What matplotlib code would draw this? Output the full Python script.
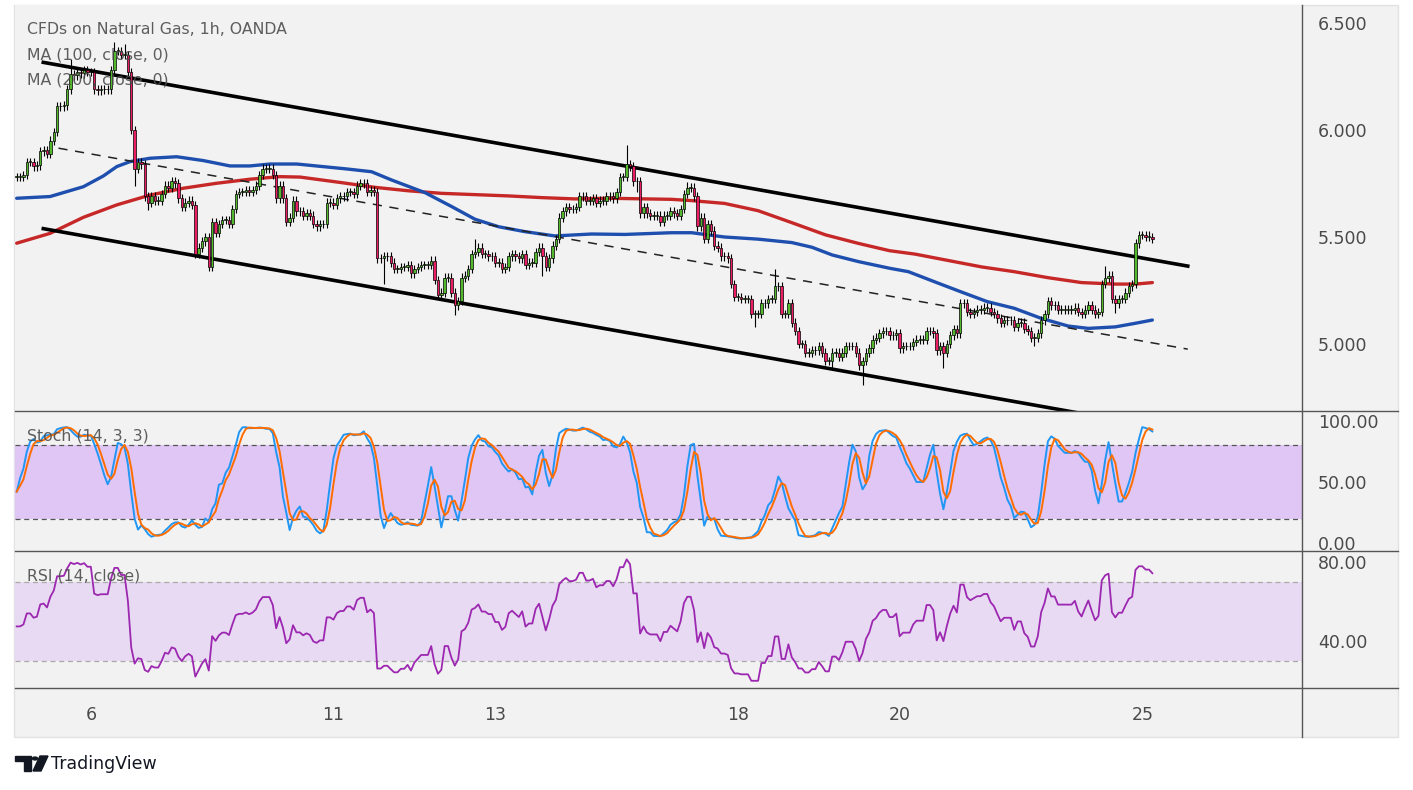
import numpy as np
import pandas as pd
import matplotlib
matplotlib.use('Agg')
import matplotlib.pyplot as plt
from matplotlib.lines import Line2D
from matplotlib.patches import Rectangle, Polygon, Circle

# ---- data (hourly closes, Jan 5 02:00 .. Jan 25 03:00) ----
# a few hours before the visible window, only used to warm up the oscillators
pre_close = [5.95, 5.89, 5.94, 5.87, 5.92, 5.85, 5.90, 5.83, 5.88, 5.80,
             5.85, 5.78, 5.83, 5.86, 5.80, 5.75, 5.81, 5.73, 5.78, 5.71,
             5.76, 5.72, 5.79, 5.74, 5.80, 5.75, 5.78]

close_a = [5.78, 5.78, 5.79, 5.85, 5.85, 5.83, 5.835, 5.90, 5.905, 5.89,
           5.95, 5.99, 6.11, 6.11, 6.115, 6.19, 6.26, 6.255, 6.27, 6.265,
           6.28, 6.27, 6.27, 6.19, 6.185, 6.19, 6.19, 6.19, 6.28, 6.37,
           6.37, 6.35, 6.35, 6.27, 6.00, 5.82, 5.85, 5.84, 5.69, 5.66,
           5.69, 5.67, 5.67, 5.70, 5.74, 5.73, 5.76, 5.75, 5.68, 5.64,
           5.66, 5.67, 5.65, 5.42, 5.45, 5.48, 5.50, 5.36, 5.57, 5.52,
           5.56, 5.58, 5.58, 5.56, 5.63, 5.70, 5.71, 5.71, 5.72, 5.71,
           5.72, 5.74, 5.79, 5.82, 5.82, 5.82, 5.79, 5.68, 5.74, 5.68,
           5.57, 5.59, 5.67, 5.62, 5.62, 5.60, 5.61]
close_b = [5.60, 5.56, 5.55, 5.56, 5.56, 5.66, 5.66, 5.65, 5.68, 5.69,
           5.69, 5.71, 5.71, 5.70, 5.74, 5.75, 5.75, 5.71, 5.72, 5.71,
           5.40, 5.40, 5.41, 5.41, 5.38, 5.35, 5.35, 5.36, 5.36, 5.37,
           5.33, 5.35, 5.36, 5.37, 5.37, 5.37, 5.39, 5.30, 5.23, 5.24,
           5.31, 5.31, 5.24, 5.18, 5.20, 5.31, 5.32, 5.35, 5.42, 5.43,
           5.45, 5.42, 5.42, 5.41, 5.41, 5.38, 5.38, 5.35, 5.36, 5.41,
           5.42, 5.41, 5.40, 5.42, 5.37, 5.38, 5.38, 5.43, 5.45, 5.41,
           5.36, 5.40, 5.46, 5.49, 5.59, 5.62, 5.64, 5.63, 5.63, 5.64,
           5.69, 5.69, 5.67, 5.67, 5.68, 5.66, 5.67]
close_c = [5.67, 5.69, 5.69, 5.68, 5.71, 5.78, 5.78, 5.84, 5.83, 5.76,
           5.76, 5.61, 5.64, 5.61, 5.60, 5.60, 5.60, 5.57, 5.60, 5.60,
           5.62, 5.61, 5.60, 5.63, 5.70, 5.73, 5.73, 5.69, 5.55, 5.59,
           5.49, 5.56, 5.53, 5.46, 5.45, 5.41, 5.41, 5.40, 5.28, 5.22,
           5.22, 5.21, 5.21, 5.21, 5.14, 5.14, 5.14, 5.19, 5.19, 5.21,
           5.21, 5.27, 5.27, 5.14, 5.14, 5.19, 5.10, 5.06, 5.00, 5.00,
           4.96, 4.96, 4.97, 4.97, 4.99, 4.96, 4.92, 4.92, 4.96, 4.96,
           4.94, 4.96, 4.99, 4.99, 4.99, 4.96, 4.90, 4.92, 4.96, 4.98,
           5.02, 5.03, 5.05, 5.06, 5.06, 5.04]
close_d = [5.04, 5.05, 4.98, 4.99, 4.99, 4.99, 5.01, 5.02, 5.02, 5.02,
           5.06, 5.06, 5.05, 4.97, 4.99, 4.96, 5.00, 5.04, 5.07, 5.05,
           5.19, 5.19, 5.15, 5.14, 5.15, 5.16, 5.16, 5.17, 5.17, 5.15,
           5.14, 5.12, 5.10, 5.11, 5.11, 5.11, 5.08, 5.10, 5.10, 5.07,
           5.06, 5.03, 5.03, 5.05, 5.11, 5.14, 5.20, 5.18, 5.18, 5.16,
           5.16, 5.16, 5.16, 5.16, 5.17, 5.15, 5.14, 5.16, 5.18, 5.16,
           5.14, 5.15, 5.28, 5.31, 5.32, 5.21, 5.19, 5.21, 5.21, 5.24,
           5.27, 5.28, 5.47, 5.51, 5.51, 5.50, 5.50, 5.49]
close = close_a + close_b + close_c + close_d

# notable wicks (bar -> price)
high_marks = {16: 6.33, 29: 6.41, 32: 6.40, 73: 5.83, 136: 5.49, 181: 5.93,
              199: 5.755, 225: 5.35, 280: 5.21, 323: 5.365, 334: 5.53, 336: 5.53}
low_marks = {35: 5.74, 39: 5.625, 57: 5.35, 58: 5.35, 80: 5.55, 109: 5.28,
             130: 5.135, 156: 5.32, 184: 5.71, 202: 5.53, 219: 5.08, 242: 4.88,
             251: 4.81, 275: 4.89, 302: 4.99, 326: 5.145}

# moving averages (bar, value)
ma100_bar = [0, 9.9, 19.8, 25.7, 29.7, 33.6, 39.6, 47.5, 55.4, 63.3, 69.2,
             75.2, 83.1, 97.9, 105.3, 111.3, 121.2, 129.1, 136, 143, 150.8,
             159.7, 170.6, 180.5, 194.3, 200.3, 210, 220, 230, 236, 242, 249.8,
             259, 264.6, 272.5, 280, 288, 296, 304, 312, 318, 326, 332, 337]
ma100 = [5.681, 5.689, 5.735, 5.785, 5.829, 5.852, 5.868, 5.875, 5.857, 5.832,
         5.832, 5.841, 5.841, 5.818, 5.805, 5.766, 5.707, 5.642, 5.583, 5.548,
         5.525, 5.505, 5.514, 5.512, 5.52, 5.52, 5.50, 5.49, 5.474, 5.452,
         5.416, 5.385, 5.354, 5.338, 5.29, 5.245, 5.198, 5.167, 5.12, 5.084,
         5.073, 5.08, 5.097, 5.112]
ma200_bar = [0, 9.9, 19.8, 29.7, 39.6, 49.5, 59.3, 69.2, 78.1, 84.1, 96.4,
             106.3, 116.2, 126.1, 136, 145.9, 155.8, 165.7, 175.6, 194.3,
             200.3, 210, 220, 230, 240, 249.8, 259, 266.6, 276.5, 286.4, 296,
             306, 316, 326, 332, 337]
ma200 = [5.471, 5.517, 5.592, 5.650, 5.696, 5.728, 5.751, 5.770, 5.782, 5.78,
         5.754, 5.732, 5.716, 5.704, 5.698, 5.692, 5.684, 5.678, 5.681, 5.676,
         5.67, 5.657, 5.623, 5.567, 5.51, 5.47, 5.436, 5.42, 5.39, 5.36,
         5.338, 5.31, 5.287, 5.28, 5.28, 5.287]

# drawn channel (bar, price)
chan_upper = [(7.9, 6.316), (347.5, 5.364)]
chan_lower = [(7.9, 5.539), (347.5, 4.587)]
chan_mid = [(12.4, 5.915), (347.5, 4.976)]

tick_days = [6, 11, 13, 18, 20, 25]
price_ticks = [5.0, 5.5, 6.0, 6.5]
stoch_ticks = [0, 50, 100]
rsi_ticks = [40, 80]

# ---- derived series ----
WICK = 0.02
n0 = len(pre_close)
c_all = np.array(pre_close + close)
o_all = np.r_[c_all[0], c_all[:-1]]
hi_all = np.maximum(o_all, c_all) + WICK
lo_all = np.minimum(o_all, c_all) - WICK
for b, v in high_marks.items():
    hi_all[n0 + b] = max(hi_all[n0 + b], v)
for b, v in low_marks.items():
    lo_all[n0 + b] = min(lo_all[n0 + b], v)

s = pd.Series(c_all)
hh = pd.Series(hi_all).rolling(14, min_periods=1).max()
ll = pd.Series(lo_all).rolling(14, min_periods=1).min()
k = (100 * (s - ll) / (hh - ll)).rolling(3, min_periods=1).mean()
d = k.rolling(3, min_periods=1).mean()
delta = s.diff().fillna(0)
up = delta.clip(lower=0).ewm(alpha=1 / 14, adjust=False).mean()
dn = (-delta.clip(upper=0)).ewm(alpha=1 / 14, adjust=False).mean()
rsi = 100 - 100 / (1 + up / dn)

o = o_all[n0:]
c = c_all[n0:]
hi = hi_all[n0:]
lo = lo_all[n0:]
k = k.values[n0:]
d = d.values[n0:]
rsi = rsi.values[n0:]
x = np.arange(len(c))

days = pd.bdate_range('2023-01-05', '2023-01-25')
stamps = [dd + pd.Timedelta(hours=h) for dd in days for h in range(24)][2:2 + len(c)]
tick_pos = [i for i, t in enumerate(stamps) if t.hour == 0 and t.day in tick_days]
tick_lab = [str(stamps[i].day) for i in tick_pos]

# ---- figure ----
W, H = 1413, 790
BG = '#f2f2f2'
TXT = '#4a4a4a'
GREEN = '#53b82e'
RED = '#e91e63'


def fx(px):
    return px / W


def fy(py):
    return 1 - py / H


fig = plt.figure(figsize=(W / 100, H / 100), dpi=100)
fig.patch.set_facecolor('white')
fig.add_artist(Rectangle((fx(14), fy(737)), fx(1398) - fx(14), fy(5) - fy(737),
                         transform=fig.transFigure, facecolor=BG,
                         edgecolor='#e2e2e6', lw=1, zorder=0))


def add_ax(top, bottom, ylim):
    ax = fig.add_axes([fx(15), fy(bottom), fx(1302) - fx(15), fy(top) - fy(bottom)])
    ax.set_facecolor(BG)
    for sp in ax.spines.values():
        sp.set_visible(False)
    ax.yaxis.tick_right()
    ax.tick_params(axis='y', length=0, pad=11.5, labelsize=12.5, labelcolor=TXT)
    ax.tick_params(axis='x', length=0, labelbottom=False)
    ax.set_xlim(-0.5, 381.4)
    ax.set_ylim(*ylim)
    return ax


ax1 = add_ax(5, 411, (4.687, 6.584))
ax2 = add_ax(411, 551, (-6.56, 108.2))
ax3 = add_ax(551, 688, (16.2, 85.57))

# main panel
ax1.plot(ma200_bar, ma200, color='#c62828', lw=2.4, zorder=2,
         solid_capstyle='round', solid_joinstyle='round')
ax1.plot(ma100_bar, ma100, color='#1e4fae', lw=2.4, zorder=2,
         solid_capstyle='round', solid_joinstyle='round')
for (xa, ya), (xb, yb) in (chan_upper, chan_lower):
    ax1.plot([xa, xb], [ya, yb], color='black', lw=2.6, zorder=2.5)
(xa, ya), (xb, yb) = chan_mid
ax1.plot([xa, xb], [ya, yb], color='#222222', lw=1.1, dashes=(6, 5), zorder=2.5)

body_lo = np.minimum(o, c)
body_h = np.maximum(np.abs(c - o), 0.003)
cols = np.where(c >= o, GREEN, RED)
ax1.vlines(x, lo, hi, color='black', lw=0.8, zorder=3)
ax1.bar(x, body_h, bottom=body_lo, width=0.72, color=cols, edgecolor='black',
        linewidth=0.5, zorder=4)
ax1.set_yticks(price_ticks)
ax1.set_yticklabels([f'{v:.3f}' for v in price_ticks])

# stochastic panel
ax2.axhspan(20, 80, color='#e0c6f4', zorder=0, lw=0)
for lvl in (20, 80):
    ax2.axhline(lvl, color='#555555', lw=0.9, dashes=(4, 3), zorder=1)
ax2.plot(x, k, color='#2196f3', lw=1.4, zorder=3)
ax2.plot(x, d, color='#ff6d00', lw=1.4, zorder=3)
ax2.set_yticks(stoch_ticks)
ax2.set_yticklabels([f'{v:.2f}' for v in stoch_ticks])

# RSI panel
ax3.axhspan(30, 70, color='#e8daf3', zorder=0, lw=0)
for lvl in (30, 70):
    ax3.axhline(lvl, color='#aaaaaa', lw=0.9, dashes=(4, 3), zorder=1)
ax3.plot(x, rsi, color='#9c27b0', lw=1.3, zorder=3)
ax3.set_yticks(rsi_ticks)
ax3.set_yticklabels([f'{v:.2f}' for v in rsi_ticks])
ax3.set_xticks(tick_pos)
ax3.set_xticklabels(tick_lab)
ax3.tick_params(axis='x', labelbottom=True, pad=13, labelsize=12.5, labelcolor=TXT)

# separators
for yy in (411, 551, 688):
    fig.add_artist(Line2D([fx(15), fx(1398)], [fy(yy), fy(yy)], color='#555555',
                          lw=1, transform=fig.transFigure, zorder=10))
fig.add_artist(Line2D([fx(1302), fx(1302)], [fy(5), fy(737)], color='#555555',
                      lw=1, transform=fig.transFigure, zorder=10))

# legends
for i, t in enumerate(['CFDs on Natural Gas, 1h, OANDA', 'MA (100, close, 0)',
                       'MA (200, close, 0)']):
    fig.text(fx(27), fy(29 + 25.5 * i), t, fontsize=11.3, color='#4d4d4d',
             alpha=0.9, va='center', ha='left', zorder=20)
fig.text(fx(27), fy(436), 'Stoch (14, 3, 3)', fontsize=11.3, color='#4d4d4d',
         alpha=0.9, va='center', zorder=20)
fig.text(fx(27), fy(576), 'RSI (14, close)', fontsize=11.3, color='#4d4d4d',
         alpha=0.9, va='center', zorder=20)

# TradingView logo
LOGO = '#131722'
fig.add_artist(Polygon([(fx(15), fy(756)), (fx(31), fy(756)), (fx(31), fy(771)),
                        (fx(24), fy(771)), (fx(24), fy(761)), (fx(15), fy(761))],
                       closed=True, transform=fig.transFigure, color=LOGO))
fig.add_artist(Circle((fx(35), fy(758.5)), 2.6 / W, transform=fig.transFigure,
                      color=LOGO))
fig.add_artist(Polygon([(fx(40), fy(756)), (fx(48), fy(756)), (fx(41), fy(771)),
                        (fx(33), fy(771))], closed=True,
                       transform=fig.transFigure, color=LOGO))
fig.text(fx(51), fy(764), 'TradingView', fontsize=12.5, color=LOGO, va='center')

fig.savefig('out.png', dpi=100, facecolor='white')
